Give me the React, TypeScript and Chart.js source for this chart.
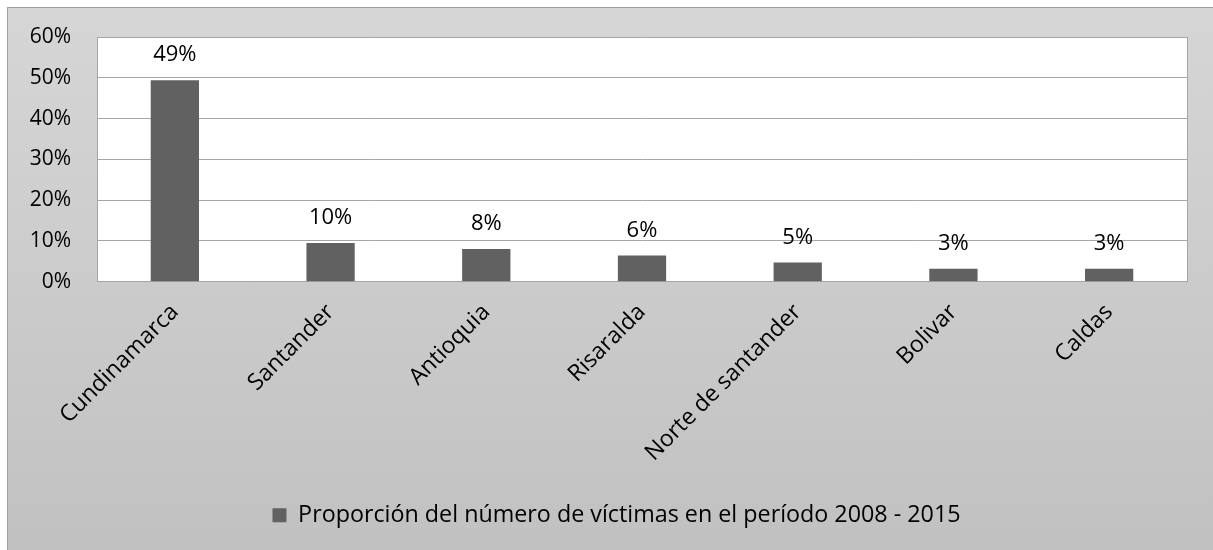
import React, { useEffect, useRef } from "react";
import { Chart, registerables } from "chart.js";

Chart.register(...registerables);

const categories = [
  "Cundinamarca",
  "Santander",
  "Antioquia",
  "Risaralda",
  "Norte de santander",
  "Bolivar",
  "Caldas",
];
const values = [49.4, 9.5, 8.0, 6.4, 4.7, 3.2, 3.2];
const seriesLabel = "Proporción del número de víctimas en el período 2008 - 2015";
const yTicks = [0, 10, 20, 30, 40, 50, 60];

const FONT = "'Open Sans', sans-serif";
const BAR = "#616161";
const GRID = "#a6a6a6";

const plotBg = {
  id: "plotBg",
  beforeDraw(chart: any) {
    const { ctx, chartArea } = chart;
    ctx.save();
    ctx.fillStyle = "#ffffff";
    ctx.fillRect(chartArea.left, chartArea.top, chartArea.right - chartArea.left, chartArea.bottom - chartArea.top);
    ctx.restore();
  },
};

const dataLabels = {
  id: "dataLabels",
  afterDatasetsDraw(chart: any) {
    const { ctx } = chart;
    const meta = chart.getDatasetMeta(0);
    ctx.save();
    ctx.font = `22px ${FONT}`;
    ctx.fillStyle = "#000";
    ctx.textAlign = "center";
    ctx.textBaseline = "middle";
    meta.data.forEach((bar: any, i: number) => {
      const v = chart.data.datasets[0].data[i];
      ctx.fillText(Math.round(v) + "%", bar.x, bar.y - 25);
    });
    ctx.restore();
  },
};

export default function App() {
  const ref = useRef<HTMLCanvasElement>(null);
  useEffect(() => {
    const chart = new Chart(ref.current!, {
      type: "bar",
      data: {
        labels: categories,
        datasets: [
          {
            label: seriesLabel,
            data: values,
            backgroundColor: BAR,
            borderWidth: 0,
            barPercentage: 0.31,
            categoryPercentage: 1,
          },
        ],
      },
      options: {
        animation: false,
        responsive: false,
        layout: { padding: { top: 29, right: 0, bottom: 13, left: 12 } },
        plugins: {
          tooltip: { enabled: false },
          legend: {
            position: "bottom",
            labels: {
              font: { family: FONT, size: 23.3 },
              color: "#000",
              boxWidth: 14,
              boxHeight: 14,
              padding: 10,
            },
          },
        },
        scales: {
          x: {
            grid: { display: false },
            border: { display: true, color: GRID, width: 1 },
            ticks: {
              color: "#000",
              font: { family: FONT, size: 23 },
              minRotation: 45,
              maxRotation: 45,
              padding: 9,
            },
            afterFit(scale: any) {
              scale.height = 212;
            },
          },
          y: {
            min: 0,
            max: 60,
            afterBuildTicks(scale: any) {
              scale.ticks = yTicks.map((v) => ({ value: v }));
            },
            grid: { color: GRID, lineWidth: 1, drawTicks: true, tickLength: 26, tickColor: "rgba(0,0,0,0)" },
            border: { display: true, color: GRID, width: 1 },
            ticks: {
              color: "#000",
              font: { family: FONT, size: 21 },
              padding: 0,
              callback: (v: any) => v + "%",
            },
            afterFit(scale: any) {
              scale.width = 77;
            },
          },
          y2: {
            position: "right",
            min: 0,
            max: 60,
            grid: { display: false, drawTicks: false },
            border: { display: true, color: GRID, width: 1 },
            ticks: { display: false },
            afterFit(scale: any) {
              scale.width = 26;
            },
          },
        },
      },
      plugins: [plotBg, dataLabels],
    });
    return () => chart.destroy();
  }, []);

  return (
    <div
      style={{
        position: "absolute",
        left: 7,
        top: 7,
        width: 1206,
        height: 543,
        boxSizing: "border-box",
        borderLeft: "1px solid #a0a0a0",
        borderTop: "1px solid #a0a0a0",
        background: "linear-gradient(to bottom, #d6d6d6, #c1c1c1)",
      }}
    >
      <canvas ref={ref} width={1205} height={542} style={{ display: "block" }} />
    </div>
  );
}
